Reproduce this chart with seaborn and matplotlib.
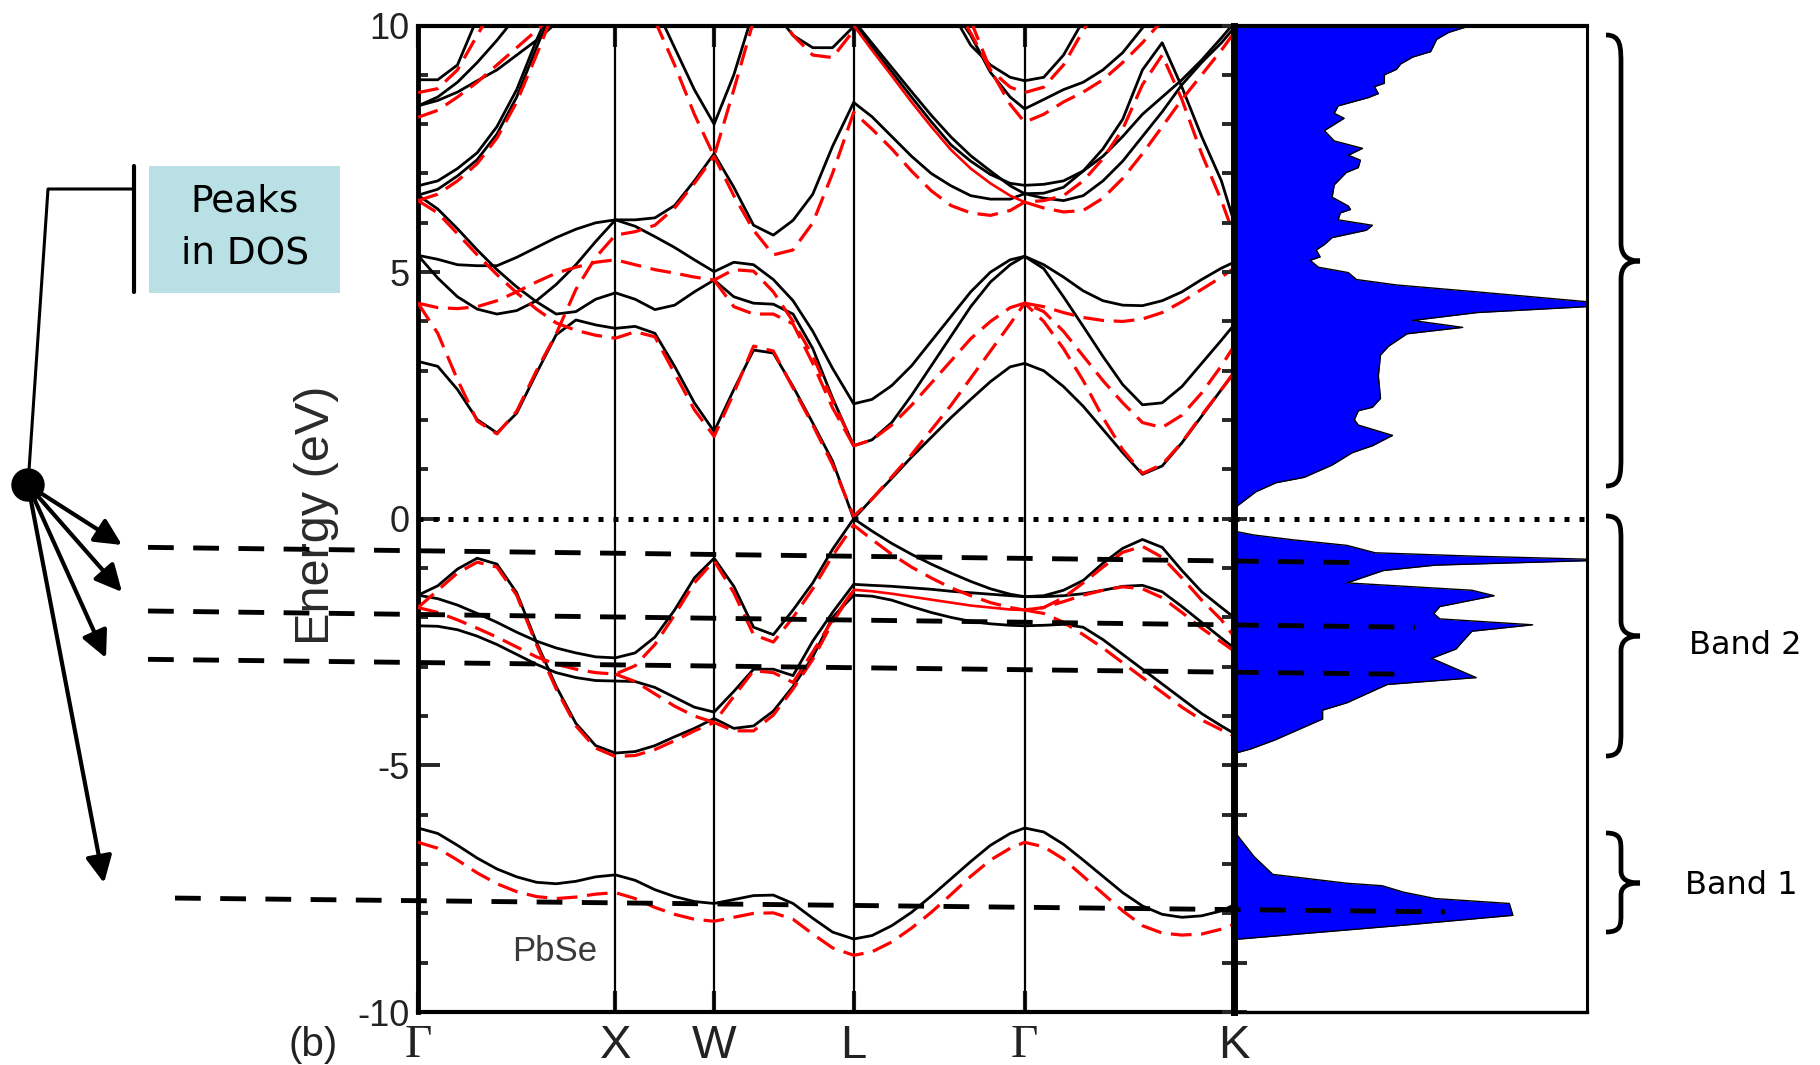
import numpy as np
import matplotlib
matplotlib.use("Agg")
import matplotlib.pyplot as plt
import seaborn as sns
from matplotlib.patches import Rectangle, Circle, PathPatch
from matplotlib.path import Path
from matplotlib.ticker import MultipleLocator
import matplotlib.transforms as mtransforms

sns.set_theme(style="white")
plt.rcParams["font.family"] = ["Liberation Sans", "DejaVu Sans"]

nan = np.nan

# ---------------- k-path ----------------
K_GRID = [0.0, 0.1, 0.2, 0.3, 0.4, 0.5, 0.6, 0.7, 0.8, 0.9, 1.0,
          1.1, 1.2, 1.3, 1.4, 1.5,
          1.6, 1.7, 1.8, 1.9, 2.0, 2.1, 2.2071,
          2.3, 2.4, 2.5, 2.6, 2.7, 2.8, 2.9, 3.0, 3.0731,
          3.17, 3.27, 3.37, 3.47, 3.57, 3.67, 3.77, 3.87, 3.97, 4.07, 4.1338]
SYM_K = [0.0, 1.0, 1.5, 2.2071, 3.0731, 4.1338]
SYM_LABELS = ["Γ", "X", "W", "L", "Γ", "K"]

# ---------------- black (solid) bands ----------------
black_low = [-6.27, -6.38, -6.62, -6.88, -7.10, -7.26, -7.37, -7.40, -7.35, -7.26, -7.22,
             -7.33, -7.52, -7.66, -7.76, -7.80,
             -7.72, -7.64, -7.63, -7.80, -8.10, -8.38, -8.52,
             -8.45, -8.25, -7.98, -7.65, -7.30, -6.95, -6.62, -6.38, -6.27,
             -6.35, -6.60, -6.92, -7.25, -7.58, -7.85, -8.02, -8.08, -8.05, -7.95, -7.83]
black_va = [-1.55, -1.36, -1.02, -0.80, -0.92, -1.50, -2.50, -3.40, -4.15, -4.60, -4.75,
            -4.72, -4.60, -4.42, -4.25, -4.05,
            -4.25, -4.20, -3.90, -3.40, -2.80, -2.00, -1.55,
            -1.57, -1.65, -1.78, -1.90, -2.00, -2.08, -2.13, -2.16, -2.17,
            -2.16, -2.14, -2.20, -2.45, -2.75, -3.05, -3.35, -3.65, -3.95, -4.20, -4.35]
black_vb = [-1.55, -1.62, -1.75, -1.92, -2.10, -2.30, -2.48, -2.62, -2.72, -2.80, -2.82,
            -2.72, -2.40, -1.85, -1.20, -0.80,
            -1.37, -2.20, -2.35, -1.85, -1.30, -0.62, 0.00,
            -0.25, -0.50, -0.72, -0.92, -1.10, -1.27, -1.42, -1.53, -1.58,
            -1.56, -1.45, -1.25, -0.90, -0.60, -0.42, -0.58, -1.05, -1.48, -1.80, -2.00]
black_vc = [-2.17, -2.18, -2.25, -2.38, -2.55, -2.75, -2.95, -3.12, -3.22, -3.28, -3.29,
            -3.30, -3.42, -3.62, -3.82, -3.92,
            -3.50, -3.05, -3.05, -3.18, -2.48, -1.90, -1.33,
            -1.35, -1.37, -1.40, -1.43, -1.47, -1.50, -1.53, -1.56, -1.58,
            -1.58, -1.56, -1.52, -1.45, -1.37, -1.35, -1.48, -1.78, -2.10, -2.42, -2.62]
black_cb1 = [3.19, 3.09, 2.62, 2.01, 1.74, 2.14, 2.95, 3.73, 4.03, 3.93, 3.86,
             3.90, 3.76, 3.09, 2.35, 1.77,
             2.62, 3.42, 3.36, 2.68, 1.94, 1.17, 0.00,
             0.40, 0.82, 1.25, 1.65, 2.05, 2.42, 2.78, 3.08, 3.15,
             3.00, 2.68, 2.28, 1.81, 1.34, 0.90, 1.07, 1.54, 2.08, 2.62, 2.95]
black_p = [6.56, 6.28, 5.88, 5.45, 5.05, 4.70, 4.40, 4.15, 4.20, 4.45, 4.58,
           4.45, 4.24, 4.33, 4.60, 4.84,
           4.50, 4.37, 4.35, 4.15, 3.45, 2.45, 1.48,
           1.60, 1.95, 2.50, 3.10, 3.70, 4.30, 4.80, 5.15, 5.32,
           5.07, 4.50, 3.90, 3.29, 2.72, 2.31, 2.35, 2.68, 3.15, 3.62, 3.93]
black_q = [5.34, 4.88, 4.50, 4.25, 4.15, 4.22, 4.42, 4.75, 5.15, 5.62, 6.06,
           6.06, 6.10, 6.35, 6.85, 7.40,
           6.72, 5.95, 5.75, 6.05, 6.58, 7.55, 8.44,
           8.15, 7.75, 7.35, 7.00, 6.75, 6.55, 6.48, 6.48, 6.59,
           6.60, 6.72, 7.05, 7.50, 8.10, 9.10, 9.65, 8.75, 7.75, 6.85, 6.02]
black_r = [5.34, 5.26, 5.15, 5.13, 5.13, 5.30, 5.50, 5.70, 5.87, 6.00, 6.06,
           5.93, 5.72, 5.50, 5.25, 5.01,
           5.20, 5.15, 4.85, 4.42, 3.80, 3.05, 2.33,
           2.42, 2.70, 3.10, 3.60, 4.10, 4.60, 5.00, 5.25, 5.32,
           5.15, 4.90, 4.62, 4.42, 4.33, 4.32, 4.42, 4.60, 4.85, 5.08, 5.20]
black_d1 = [6.75, 6.85, 7.10, 7.42, 7.95, 8.70, 9.70, 10.60] + [nan] * 35
black_d2 = [6.56, 6.68, 6.95, 7.28, 7.80, 8.55, 9.55, 10.50] + [nan] * 35
black_ua = [8.90, 8.90, 9.20, 10.15] + [nan] * 39
black_ub = [8.37, 8.55, 8.85, 9.25, 9.70, 10.20] + [nan] * 37
black_uc = [8.37, 8.48, 8.65, 8.88, 9.10, 9.40, 9.70, 10.05] + [nan] * 35
black_wv = [nan] * 12 + [10.40, 9.55, 8.70, 8.00, 9.00, 10.30] + [nan] * 25
black_ltop = [nan] * 18 + [10.30, 9.80, 9.55, 9.55, 9.98] + [nan] * 20
black_u1 = [nan] * 22 + [10.05, 9.56, 9.06, 8.55, 8.05, 7.58, 7.25, 6.98, 6.80, 6.76,
                         6.78, 6.85, 7.05, 7.35, 7.75, 8.20, 8.55, 8.90, 9.30, 9.75, 10.05]
black_u2 = [nan] * 22 + [10.10, 9.64, 9.15, 8.66, 8.18, 7.74, 7.36, 7.05, 6.75, 6.59,
                         6.50, 6.45, 6.55, 6.85, 7.25, 7.75, 8.25, 8.80, 9.25, 9.65, 9.95]
black_e1 = [nan] * 27 + [10.30, 9.60, 9.20, 8.95, 8.88, 8.95, 9.40, 10.10] + [nan] * 8
black_e2 = [nan] * 27 + [10.40, 9.80, 9.05, 8.55, 8.31, 8.50, 8.70, 8.85, 9.10, 9.45,
                         9.95, 10.40] + [nan] * 4

# ---------------- red (dashed) bands ----------------
red_low = [-6.56, -6.68, -6.92, -7.18, -7.40, -7.56, -7.66, -7.70, -7.67, -7.61, -7.58,
           -7.70, -7.88, -8.02, -8.12, -8.16,
           -8.08, -8.00, -7.99, -8.12, -8.42, -8.70, -8.85,
           -8.78, -8.58, -8.30, -7.98, -7.62, -7.25, -6.92, -6.68, -6.56,
           -6.65, -6.90, -7.25, -7.60, -7.95, -8.25, -8.40, -8.44, -8.42, -8.32, -8.22]
red_ra = [-1.80, -1.45, -1.10, -0.88, -0.98, -1.55, -2.55, -3.45, -4.20, -4.65, -4.82,
          -4.80, -4.68, -4.50, -4.30, -4.13,
          -4.30, -4.30, -3.98, -3.45, -2.85, -2.10, -1.45,
          nan, nan, nan, nan, nan, nan, nan, nan, -1.85,
          -1.92, -2.10, -2.35, -2.62, -2.92, -3.22, -3.52, -3.82, -4.08, -4.28, -4.40]
red_rb = [-1.80, -1.90, -2.05, -2.22, -2.40, -2.60, -2.80, -2.95, -3.05, -3.12, -3.15,
          -2.98, -2.55, -1.95, -1.30, -0.85,
          -1.50, -2.35, -2.50, -2.00, -1.42, -0.75, -0.13,
          -0.42, -0.72, -0.98, -1.20, -1.40, -1.56, -1.70, -1.80, -1.85,
          -1.80, -1.60, -1.30, -0.98, -0.68, -0.56, -0.78, -1.20, -1.65, -2.05, -2.39]
red_rc = [nan] * 10 + [-3.15,
          -3.30, -3.55, -3.80, -4.00, -4.13,
          -3.60, -3.08, -3.12, -3.32, -2.70, -2.05, -1.44,
          nan, nan, nan, nan, nan, nan, nan, nan, -1.85,
          -1.80, -1.68, -1.55, -1.45, -1.38, -1.42, -1.60, -1.90, -2.22, -2.50, -2.68]
red_r1 = [4.37, 3.76, 2.82, 1.98, 1.72, 2.18, 3.00, 3.75, 4.65, 5.30, 5.75,
          5.82, 5.95, 6.30, 6.80, 7.35,
          6.55, 5.85, 5.35, 5.45, 6.00, 7.00, 8.24,
          7.90, 7.50, 7.05, 6.65, 6.35, 6.20, 6.15, 6.25, 6.42,
          6.45, 6.55, 6.85, 7.30, 7.90, 8.80, 9.40, 8.50, 7.40, 6.45, 5.75]
red_r2 = [6.45, 6.20, 5.78, 5.35, 4.95, 4.58, 4.25, 3.97, 3.82, 3.72, 3.66,
          3.79, 3.69, 2.95, 2.21, 1.67,
          2.55, 3.50, 3.40, 2.65, 1.90, 1.10, 0.05,
          0.40, 0.85, 1.30, 1.80, 2.30, 2.85, 3.40, 3.95, 4.37,
          4.00, 3.45, 2.80, 2.05, 1.40, 0.92, 1.10, 1.55, 2.10, 2.62, 2.97]
red_r3 = [4.37, 4.28, 4.26, 4.30, 4.42, 4.60, 4.80, 4.98, 5.10, 5.20, 5.25,
          5.15, 5.05, 4.98, 4.90, 4.84,
          5.05, 5.02, 4.60, 4.00, 3.30, 2.40, 1.48,
          1.60, 1.90, 2.30, 2.75, 3.20, 3.65, 4.00, 4.28, 4.37,
          4.20, 3.80, 3.30, 2.80, 2.35, 1.95, 1.85, 2.10, 2.55, 3.10, 3.50]
red_r4 = [nan] * 15 + [4.84, 4.30, 4.15, 4.15, 3.95, 3.15, 2.25, 1.48] + [nan] * 20
red_c3 = [nan] * 31 + [4.37, 4.30, 4.18, 4.08, 4.02, 4.00, 4.05, 4.18, 4.40, 4.65, 4.90, 5.08]
red_r5 = [6.45, 6.58, 6.85, 7.20, 7.72, 8.45, 9.40, 10.40] + [nan] * 35
red_ud = [8.64, 8.72, 9.10, 9.80, 10.50] + [nan] * 38
red_ue = [8.14, 8.28, 8.55, 8.85, 9.20, 9.55, 9.90, 10.25] + [nan] * 35
red_wv = [nan] * 12 + [10.10, 9.20, 8.20, 7.35, 8.70, 10.10] + [nan] * 25
red_ltop = [nan] * 18 + [10.40, 9.80, 9.40, 9.35, 9.90] + [nan] * 20
red_h3 = [nan] * 31 + [6.42, 6.30, 6.22, 6.25, 6.50, 6.90, 7.40, 7.95, 8.50, 9.00, 9.50, 9.85]
red_e1 = [nan] * 27 + [10.50, 9.85, 9.10, 8.75, 8.64, 8.75, 9.20, 9.90, 10.50] + [nan] * 7
red_e2 = [nan] * 28 + [10.10, 9.10, 8.40, 8.04, 8.20, 8.45, 8.65, 8.90, 9.25, 9.65,
                       10.10] + [nan] * 4

# ---------------- red (solid) bands ----------------
red_solid_val = [nan] * 22 + [-1.44, -1.47, -1.52, -1.58, -1.64, -1.70, -1.76, -1.80,
                              -1.84, -1.85] + [nan] * 11
red_solid_up = [nan] * 22 + [10.00, 9.50, 8.98, 8.45, 7.95, 7.48, 7.10, 6.80, 6.55,
                             6.42] + [nan] * 11

BLACK_BANDS = [black_low, black_va, black_vb, black_vc, black_cb1, black_p, black_q,
               black_r, black_d1, black_d2, black_ua, black_ub, black_uc, black_wv,
               black_ltop, black_u1, black_u2, black_e1, black_e2]
RED_DASHED = [red_low, red_ra, red_rb, red_rc, red_r1, red_r2, red_r3, red_r4, red_c3,
              red_r5, red_ud, red_ue, red_wv, red_ltop, red_h3, red_e1, red_e2]
RED_SOLID = [red_solid_val, red_solid_up]

# ---------------- DOS (energy, relative width) ----------------
DOS_E = [-10.0, -8.53, -8.24, -8.04, -7.80, -7.70, -7.57, -7.44, -7.39, -7.21, -6.85, -6.33,
         -4.76, -4.67, -4.49, -4.06, -3.88, -3.73, -3.36, -3.22, -2.83, -2.64, -2.50, -2.28,
         -2.15, -2.03, -1.92, -1.78, -1.56, -1.45, -1.30, -1.05, -0.94, -0.85, -0.82, -0.76,
         -0.69, -0.54, -0.43, -0.33, -0.25,
         0.20, 0.27, 0.55, 0.73, 0.84, 1.09, 1.34, 1.48, 1.69, 1.90, 2.01, 2.19, 2.26, 2.44,
         2.90, 3.32, 3.50, 3.75, 3.88, 4.02, 4.18, 4.30, 4.40, 4.60, 4.74, 4.85, 4.99, 5.10,
         5.24, 5.31, 5.45, 5.56, 5.70, 5.85, 5.95, 6.06, 6.20, 6.27, 6.34, 6.52, 6.77, 7.02,
         7.12, 7.27, 7.37, 7.51, 7.66, 7.87, 8.12, 8.22, 8.37, 8.54, 8.62, 8.76, 8.83, 9.00,
         9.11, 9.22, 9.36, 9.47, 9.72, 9.86, 9.96, 10.0]
DOS_W = [0.0, 0.0, 0.48, 0.79, 0.78, 0.57, 0.48, 0.42, 0.32, 0.11, 0.057, 0.0,
         0.0, 0.046, 0.114, 0.251, 0.251, 0.32, 0.434, 0.686, 0.56, 0.629, 0.646, 0.674,
         0.846, 0.583, 0.566, 0.583, 0.737, 0.674, 0.32, 0.423, 0.571, 1.0, 1.0, 0.686,
         0.40, 0.32, 0.171, 0.057, 0.0,
         0.0, 0.011, 0.0625, 0.119, 0.199, 0.278, 0.335, 0.392, 0.449, 0.352, 0.341, 0.352,
         0.392, 0.415, 0.409, 0.415, 0.438, 0.49, 0.648, 0.506, 0.688, 1.0, 1.0, 0.688,
         0.46, 0.347, 0.324, 0.239, 0.216, 0.244, 0.233, 0.256, 0.278, 0.375, 0.392, 0.295,
         0.301, 0.33, 0.324, 0.278, 0.284, 0.318, 0.352, 0.358, 0.324, 0.364, 0.284, 0.256,
         0.312, 0.284, 0.295, 0.381, 0.409, 0.398, 0.426, 0.426, 0.46, 0.472, 0.506, 0.557,
         0.574, 0.608, 0.653, 0.66]

# ---------------- annotation data ----------------
PEAK_X0 = [148, 148, 148, 175]          # figure pixels
PEAK_X1 = [1364, 1415, 1396, 1445]
PEAK_E0 = [-0.58, -1.87, -2.85, -7.69]  # eV
PEAK_E1 = [-0.89, -2.20, -3.15, -7.97]
ARROW_TIPS = [(122, 545), (122, 592), (106, 658), (104, 883)]
DOT = (28, 485)
BRACES = [(35, 261, 486, 30, 18), (516, 636, 756, 25, 15), (833, 883, 932, 18, 12)]
BAND_LABELS = [("Band 2", 1745, 645), ("Band 1", 1741, 886)]

W_PX, H_PX = 1820, 1065
fig = plt.figure(figsize=(W_PX / 100, H_PX / 100), dpi=100, facecolor="white")

y_bot = (H_PX - 1012) / H_PX
y_h = (1012 - 25.5) / H_PX
ax = fig.add_axes([418 / W_PX, y_bot, (1234 - 418) / W_PX, y_h])
dos = fig.add_axes([1234 / W_PX, y_bot, (1587 - 1234) / W_PX, y_h])
for a in (ax, dos):
    a.set_facecolor("white")

kk = np.asarray(K_GRID, float)


def draw_band(axis, values, **kw):
    e = np.asarray(values, float)
    idx = np.where(~np.isnan(e))[0]
    if len(idx) < 2:
        return
    for piece in np.split(idx, np.where(np.diff(idx) != 1)[0] + 1):
        if len(piece) < 2:
            continue
        sns.lineplot(x=kk[piece], y=e[piece], ax=axis, sort=False, estimator=None,
                     legend=False, **kw)


for sk in SYM_K[1:-1]:
    ax.axvline(sk, color="black", lw=1.6, zorder=1)

for band in BLACK_BANDS:
    draw_band(ax, band, color="black", lw=2.0, zorder=3)
for band in RED_SOLID:
    draw_band(ax, band, color="#ff0000", lw=1.9, zorder=4)
for band in RED_DASHED:
    draw_band(ax, band, color="#ff0000", lw=2.3, linestyle=(0, (6.5, 3.0)), zorder=4)

ax.axhline(0, color="black", lw=3.6, ls=(0, (1, 2)), zorder=5)

ax.set_xlim(0, SYM_K[-1])
ax.set_ylim(-10, 10)
ax.set_xlabel("")
ax.set_xticks(SYM_K)
ax.set_xticklabels(SYM_LABELS)
ax.set_yticks([-10, -5, 0, 5, 10])
ax.set_yticklabels(["-10", "-5", "0", "5", "10"])
ax.yaxis.set_minor_locator(MultipleLocator(1))
ax.tick_params(axis="y", which="major", direction="in", length=16, width=2.8,
               left=True, right=False, labelsize=26, pad=6, labelcolor="#222222")
ax.tick_params(axis="y", which="minor", direction="in", length=7.5, width=2.8,
               left=True, right=False)
ax.tick_params(axis="x", which="major", direction="in", length=15, width=3,
               top=True, bottom=True, labelsize=34, pad=9, labelcolor="#222222")
for lab, txt in zip(ax.get_xticklabels(), SYM_LABELS):
    if txt == "Γ":
        lab.set_fontfamily(["Liberation Serif", "DejaVu Serif"])
ax.set_ylabel("Energy (eV)", fontsize=35, color="#2a2a2a")
ax.yaxis.set_label_coords(-0.097, 0.503)
ax.text(0.694, -8.77, "PbSe", ha="center", va="center", fontsize=25, color="#3a3a3a")

for side, lw in (("left", 3.5), ("top", 3.0), ("bottom", 3.0)):
    ax.spines[side].set_linewidth(lw)
    ax.spines[side].set_color("black")
ax.spines["right"].set_visible(False)

# DOS panel
dos.fill_betweenx(DOS_E, 0, DOS_W, color="#0000ff", lw=0, zorder=2)
dos.plot(DOS_W, DOS_E, color="black", lw=1.0, zorder=3)
dos.axhline(0, color="black", lw=3.6, ls=(0, (1, 2)), zorder=5)
dos.set_xlim(0, 1.0)
dos.set_ylim(-10, 10)
dos.set_xticks([])
dos.set_yticks([-10, -5, 0, 5, 10])
dos.yaxis.set_minor_locator(MultipleLocator(1))
dos.tick_params(axis="y", which="both", direction="inout", length=18, width=2.8,
                left=True, right=False, labelleft=False)
dos.spines["left"].set_linewidth(5)
for side, lw in (("top", 3.0), ("bottom", 2.4), ("right", 2.2)):
    dos.spines[side].set_linewidth(lw)
for side in dos.spines:
    dos.spines[side].set_color("black")

# overlay for hand-drawn annotations
ov = fig.add_axes([0, 0, 1, 1], facecolor="none")
ov.set_autoscale_on(False)
ov.set_xlim(0, W_PX)
ov.set_ylim(H_PX, 0)
ov.axis("off")
blend = mtransforms.blended_transform_factory(ov.transData, ax.transData)
for x0, x1, e0, e1 in zip(PEAK_X0, PEAK_X1, PEAK_E0, PEAK_E1):
    ov.plot([x0, x1], [e0, e1], transform=blend, color="black", lw=3.5,
            ls=(0, (5.3, 4.0)), clip_on=False, zorder=10)

for tip in ARROW_TIPS:
    ov.annotate("", xy=tip, xytext=DOT,
                arrowprops=dict(arrowstyle="-|>,head_length=0.65,head_width=0.32",
                                lw=3, color="black", shrinkA=0, shrinkB=0,
                                mutation_scale=25))
ov.add_patch(Circle(DOT, 16, color="black", zorder=11))
ov.plot([DOT[0], 48, 134], [DOT[1], 189, 189], color="black", lw=2.2, zorder=10)
ov.plot([134, 134], [166, 292], color="black", lw=3.0, zorder=10)
ov.add_patch(Rectangle((149, 166), 191, 126.5, facecolor="#b9e1e5", edgecolor="none"))
ov.text(245, 202, "Peaks", ha="center", va="center", fontsize=27,
        family=["DejaVu Sans"], color="black")
ov.text(245, 254, "in DOS", ha="center", va="center", fontsize=27,
        family=["DejaVu Sans"], color="black")
ov.text(313, 1045, "(b)", ha="center", va="center", fontsize=29, color="#222222")


def brace_path(x_l, x_s, x_t, top, mid, bot, h_end, h_mid):
    verts = [(x_l, top), (x_s, top), (x_s, top + 0.4 * h_end), (x_s, top + h_end),
             (x_s, mid - h_mid),
             (x_s, mid - 0.35 * h_mid), (x_s + 0.3 * (x_t - x_s), mid), (x_t, mid),
             (x_s + 0.3 * (x_t - x_s), mid), (x_s, mid + 0.35 * h_mid), (x_s, mid + h_mid),
             (x_s, bot - h_end),
             (x_s, bot - 0.4 * h_end), (x_s, bot), (x_l, bot)]
    codes = [Path.MOVETO, Path.CURVE4, Path.CURVE4, Path.CURVE4, Path.LINETO,
             Path.CURVE4, Path.CURVE4, Path.CURVE4, Path.CURVE4, Path.CURVE4, Path.CURVE4,
             Path.LINETO, Path.CURVE4, Path.CURVE4, Path.CURVE4]
    return Path(verts, codes)


for top, mid, bot, he, hm in BRACES:
    ov.add_patch(PathPatch(brace_path(1606, 1621, 1640, top, mid, bot, he, hm),
                           facecolor="none", edgecolor="black", lw=3.4))
for txt, x, y in BAND_LABELS:
    ov.text(x, y, txt, ha="center", va="center", fontsize=23,
            family=["DejaVu Sans"], color="black")

fig.savefig("out.png", dpi=100, facecolor="white")
